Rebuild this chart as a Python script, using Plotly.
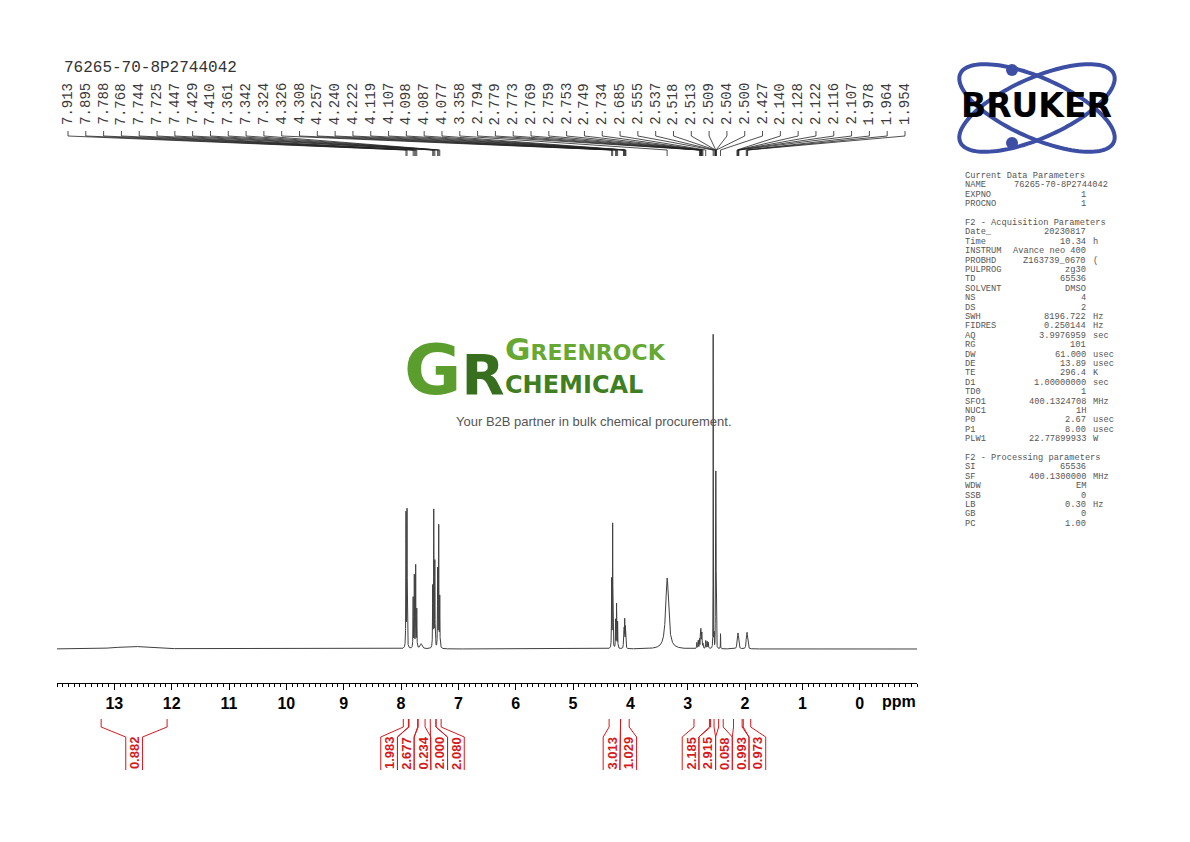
import numpy as np
import plotly.graph_objects as go

W, H = 1190, 842

sample_name = "76265-70-8P2744042"

# peak-picking labels printed above the spectrum (ppm)
peak_labels = [7.913, 7.895, 7.788, 7.768, 7.744, 7.725, 7.447, 7.429, 7.410, 7.361, 7.342, 7.324,
               4.326, 4.308, 4.257, 4.240, 4.222, 4.119, 4.107, 4.098, 4.087, 4.077, 3.358,
               2.794, 2.779, 2.773, 2.769, 2.759, 2.753, 2.749, 2.734, 2.685,
               2.555, 2.537, 2.518, 2.513, 2.509, 2.504, 2.500, 2.427,
               2.140, 2.128, 2.122, 2.116, 2.107, 1.978, 1.964, 1.954]

# lines: shift (ppm), height, half width (ppm)
line_shift = [12.70, 7.913, 7.895, 7.788, 7.768, 7.744, 7.725, 7.650,
              7.447, 7.429, 7.410, 7.361, 7.342, 7.324,
              4.326, 4.308, 4.257, 4.240, 4.222, 4.119, 4.107, 4.098, 4.087, 4.077,
              3.358,
              2.840, 2.815, 2.794, 2.779, 2.773, 2.769, 2.759, 2.753, 2.749, 2.734, 2.685, 2.660, 2.640,
              2.555, 2.537, 2.518, 2.513, 2.509, 2.504, 2.500, 2.427,
              2.140, 2.128, 2.122, 2.116, 2.107, 1.978, 1.964, 1.954]
line_height = [2.7, 134, 137, 50, 72, 82, 38, 5,
               60, 136, 85, 78, 121, 50,
               68, 124, 28, 44, 26, 10, 18, 27, 20, 10,
               71,
               6, 8, 9, 11, 12, 13, 12, 10, 9, 7, 8, 7, 6,
               314, 14, 30, 100, 154, 110, 50, 15,
               4, 7, 8, 7, 4, 8, 13, 9]
line_hw = [0.30, 0.003, 0.003, 0.003, 0.003, 0.003, 0.003, 0.02,
           0.003, 0.003, 0.003, 0.003, 0.003, 0.003,
           0.003, 0.003, 0.003, 0.003, 0.003, 0.003, 0.003, 0.003, 0.003, 0.003,
           0.03,
           0.004, 0.004, 0.003, 0.003, 0.003, 0.003, 0.003, 0.003, 0.003, 0.003, 0.004, 0.004, 0.004,
           0.0015, 0.0015, 0.0015, 0.0015, 0.0015, 0.0015, 0.0015, 0.002,
           0.006, 0.006, 0.006, 0.006, 0.006, 0.006, 0.006, 0.006]

# integrals
integral_from = [13.23, 7.96, 7.86, 7.70, 7.49, 7.39, 4.37, 4.17, 2.89, 2.60, 2.46, 2.20, 2.03]
integral_to = [12.08, 7.87, 7.71, 7.58, 7.39, 7.30, 4.17, 4.02, 2.62, 2.54, 2.38, 2.05, 1.90]
integral_value = ["0.882", "1.983", "2.677", "0.234", "2.000", "2.080",
                  "3.013", "1.029", "2.185", "2.915", "0.058", "0.993", "0.973"]

# parameter block
param_names = ["Current Data Parameters", "NAME", "EXPNO", "PROCNO", "",
               "F2 - Acquisition Parameters", "Date_", "Time", "INSTRUM", "PROBHD", "PULPROG",
               "TD", "SOLVENT", "NS", "DS", "SWH", "FIDRES", "AQ", "RG", "DW", "DE", "TE", "D1",
               "TD0", "SFO1", "NUC1", "P0", "P1", "PLW1", "",
               "F2 - Processing parameters", "SI", "SF", "WDW", "SSB", "LB", "GB", "PC"]
param_values = ["", sample_name, "1", "1", "",
                "", "20230817", "10.34", "Avance neo 400", "Z163739_0670", "zg30",
                "65536", "DMSO", "4", "2", "8196.722", "0.250144", "3.9976959", "101", "61.000",
                "13.89", "296.4", "1.00000000", "1", "400.1324708", "1H", "2.67", "8.00",
                "22.77899933", "",
                "", "65536", "400.1300000", "EM", "0", "0.30", "0", "1.00"]
param_units = ["", "", "", "", "",
               "", "", "h", "", "(", "",
               "", "", "", "", "Hz", "Hz", "sec", "", "usec", "usec", "K", "sec",
               "", "MHz", "", "usec", "usec", "W", "",
               "", "", "MHz", "", "", "Hz", "", ""]

# pixel <-> data helpers (axis 14 .. -1 ppm drawn from x=57 to x=917)
X0, X1, PPM_HI, PPM_LO = 57, 917, 14.0, -1.0
PX_PER_PPM = (X1 - X0) / (PPM_HI - PPM_LO)
BASE = 649  # baseline row in pixels; y value = BASE - pixel row


def ppm_px(p):
    return X0 + (PPM_HI - p) * PX_PER_PPM


def px_ppm(px):
    return PPM_HI - (px - X0) / PX_PER_PPM


def yv(row):
    return BASE - row


def px(x):
    return x / W


def py(y):
    return 1 - y / H


# spectrum
grid = np.linspace(PPM_HI, PPM_LO, 30001)
xs = np.unique(np.concatenate([grid, line_shift]))[::-1]
ys = np.zeros_like(xs)
for s, h, w in zip(line_shift, line_height, line_hw):
    ys += h / (1 + ((xs - s) / w) ** 2)

fig = go.Figure()
fig.add_trace(go.Scatter(x=xs, y=ys, mode="lines",
                         line=dict(color="#404040", width=1), hoverinfo="skip"))

# peak labels and their leader lines
slots = [px_ppm(p) for p in np.linspace(68, 905, len(peak_labels))]
lx, ly = [], []
for s, p in zip(slots, peak_labels):
    lx += [s, s, p, p, None]
    ly += [yv(131), yv(136), yv(150), yv(156), None]
fig.add_trace(go.Scatter(x=lx, y=ly, mode="lines",
                         line=dict(color="#222222", width=0.8), hoverinfo="skip"))

annotations = []
for s, p in zip(slots, peak_labels):
    annotations.append(dict(x=s, y=yv(127), xref="x", yref="y", text=f"{p:.3f}",
                            textangle=-90, showarrow=False, xanchor="center", yanchor="bottom",
                            font=dict(family="Liberation Mono", size=14, color="#3a3a3a")))


# integral label slots, spread so boxes do not overlap
def spread(mids, w):
    groups = [[i] for i in range(len(mids))]
    while True:
        centers = []
        for g in groups:
            m = np.mean([mids[i] for i in g])
            centers.append([m + (k - (len(g) - 1) / 2) * w for k in range(len(g))])
        merged = False
        for j in range(len(groups) - 1):
            if centers[j][-1] + w > centers[j + 1][0] + 0.01:
                groups[j] = groups[j] + groups[j + 1]
                del groups[j + 1]
                merged = True
                break
        if not merged:
            return [c for cs in centers for c in cs]


BOX = 16.7
mids = [(ppm_px(a) + ppm_px(b)) / 2 for a, b in zip(integral_from, integral_to)]
centers = spread(mids, BOX)
ix, iy = [], []
for a, b, c, v in zip(integral_from, integral_to, centers, integral_value):
    left, right = px_ppm(c - BOX / 2), px_ppm(c + BOX / 2)
    for edge, box in ((a, left), (b, right)):
        ix += [edge, edge, box, box, None]
        iy += [yv(719), yv(727), yv(737), yv(770), None]
    annotations.append(dict(x=px_ppm(c), y=yv(753), xref="x", yref="y", text=v,
                            textangle=-90, showarrow=False, xanchor="center", yanchor="middle",
                            font=dict(family="Liberation Sans", size=13, color="#d7191c",
                                      weight="bold")))
fig.add_trace(go.Scatter(x=ix, y=iy, mode="lines",
                         line=dict(color="#d7191c", width=1), hoverinfo="skip"))

annotations.append(dict(x=px_ppm(899), y=yv(701), xref="x", yref="y", text="ppm",
                        showarrow=False, xanchor="center",
                        font=dict(family="Liberation Sans", size=16,
                                  color="black", weight="bold")))

# title
annotations.append(dict(x=px(62), y=py(68), xref="paper", yref="paper", text=sample_name,
                        showarrow=False, xanchor="left", yanchor="middle",
                        font=dict(family="Liberation Mono", size=16, color="#333333")))

# parameter table
tfont = dict(family="Liberation Mono", size=8.7, color="#555555")
for i, (n, v, u) in enumerate(zip(param_names, param_values, param_units)):
    yy = py(176 + i * 9.4)
    if n:
        annotations.append(dict(x=px(963), y=yy, xref="paper", yref="paper", text=n,
                                showarrow=False, xanchor="left", yanchor="middle", font=tfont))
    if v:
        if len(v) > 15:
            annotations.append(dict(x=px(1012), y=yy, xref="paper", yref="paper", text=v,
                                    showarrow=False, xanchor="left", yanchor="middle", font=tfont))
        else:
            annotations.append(dict(x=px(1088), y=yy, xref="paper", yref="paper", text=v,
                                    showarrow=False, xanchor="right", yanchor="middle", font=tfont))
    if u:
        annotations.append(dict(x=px(1091), y=yy, xref="paper", yref="paper", text=u,
                                showarrow=False, xanchor="left", yanchor="middle", font=tfont))

# Greenrock watermark
logo = [
    dict(x=px(455), y=py(370), xanchor="center",
         text="<span style='color:#5c9e2e'>G</span>"
              "<span style='color:#386f1f;font-size:56px'>R</span>",
         font=dict(family="DejaVu Sans", size=70, color="#5c9e2e", weight="bold")),
    dict(x=px(503), y=py(365), xanchor="left",
         text="<span style='font-size:31px;font-variant:small-caps'>Greenrock</span><br>"
              "<span style='color:#3f7f22;font-size:24px'>CHEMICAL</span>",
         font=dict(family="DejaVu Sans", size=25, color="#67a832", weight="bold")),
    dict(x=px(594), y=py(421), text="Your B2B partner in bulk chemical procurement.",
         xanchor="center", font=dict(family="Liberation Sans", size=13, color="#555555")),
]
for a in logo:
    a.update(xref="paper", yref="paper", showarrow=False, yanchor="middle", align="left")
annotations += logo

# Bruker logo
shapes = []
t = np.linspace(0, 2 * np.pi, 120)
for ang in (24, -24):
    th = np.radians(ang)
    ex = 1037 + 84 * np.cos(t) * np.cos(th) - 30 * np.sin(t) * np.sin(th)
    ey = 108 + 84 * np.cos(t) * np.sin(th) + 30 * np.sin(t) * np.cos(th)
    path = "M " + " L ".join(f"{px(a):.5f},{py(b):.5f}" for a, b in zip(ex, ey)) + " Z"
    shapes.append(dict(type="path", path=path, xref="paper", yref="paper",
                       line=dict(color="#3d4fa5", width=4)))
for cy in (70, 143):
    shapes.append(dict(type="circle", xref="paper", yref="paper",
                       x0=px(1006), x1=px(1018), y0=py(cy - 6), y1=py(cy + 6),
                       fillcolor="#3d4fa5", line=dict(width=0)))
annotations.append(dict(x=px(1036), y=py(106), xref="paper", yref="paper", text="BRUKER",
                        showarrow=False, xanchor="center", yanchor="middle",
                        font=dict(family="DejaVu Sans", size=33, color="black", weight="bold")))

fig.update_layout(
    width=W, height=H,
    margin=dict(l=0, r=0, t=0, b=0),
    paper_bgcolor="white", plot_bgcolor="white",
    showlegend=False,
    annotations=annotations,
    shapes=shapes,
    xaxis=dict(domain=[X0 / W, X1 / W], range=[PPM_HI, PPM_LO], anchor="free",
               position=1 - 683 / H, showline=True, linecolor="black", linewidth=1,
               showgrid=False, zeroline=False, ticks="outside", ticklen=6,
               tickcolor="black", tickvals=list(range(0, 14)),
               tickfont=dict(family="Liberation Sans", size=16, color="black", weight="bold"),
               minor=dict(tickmode="linear", tick0=0, dtick=0.1, ticks="outside",
                          ticklen=3, tickcolor="black")),
    yaxis=dict(domain=[0, 1], range=[BASE - H, BASE], visible=False),
)

# page body margin would push the figure 8px off its place
fig.write_html("out.html", config={"displayModeBar": False},
               post_script="document.body.style.margin='0px';")
